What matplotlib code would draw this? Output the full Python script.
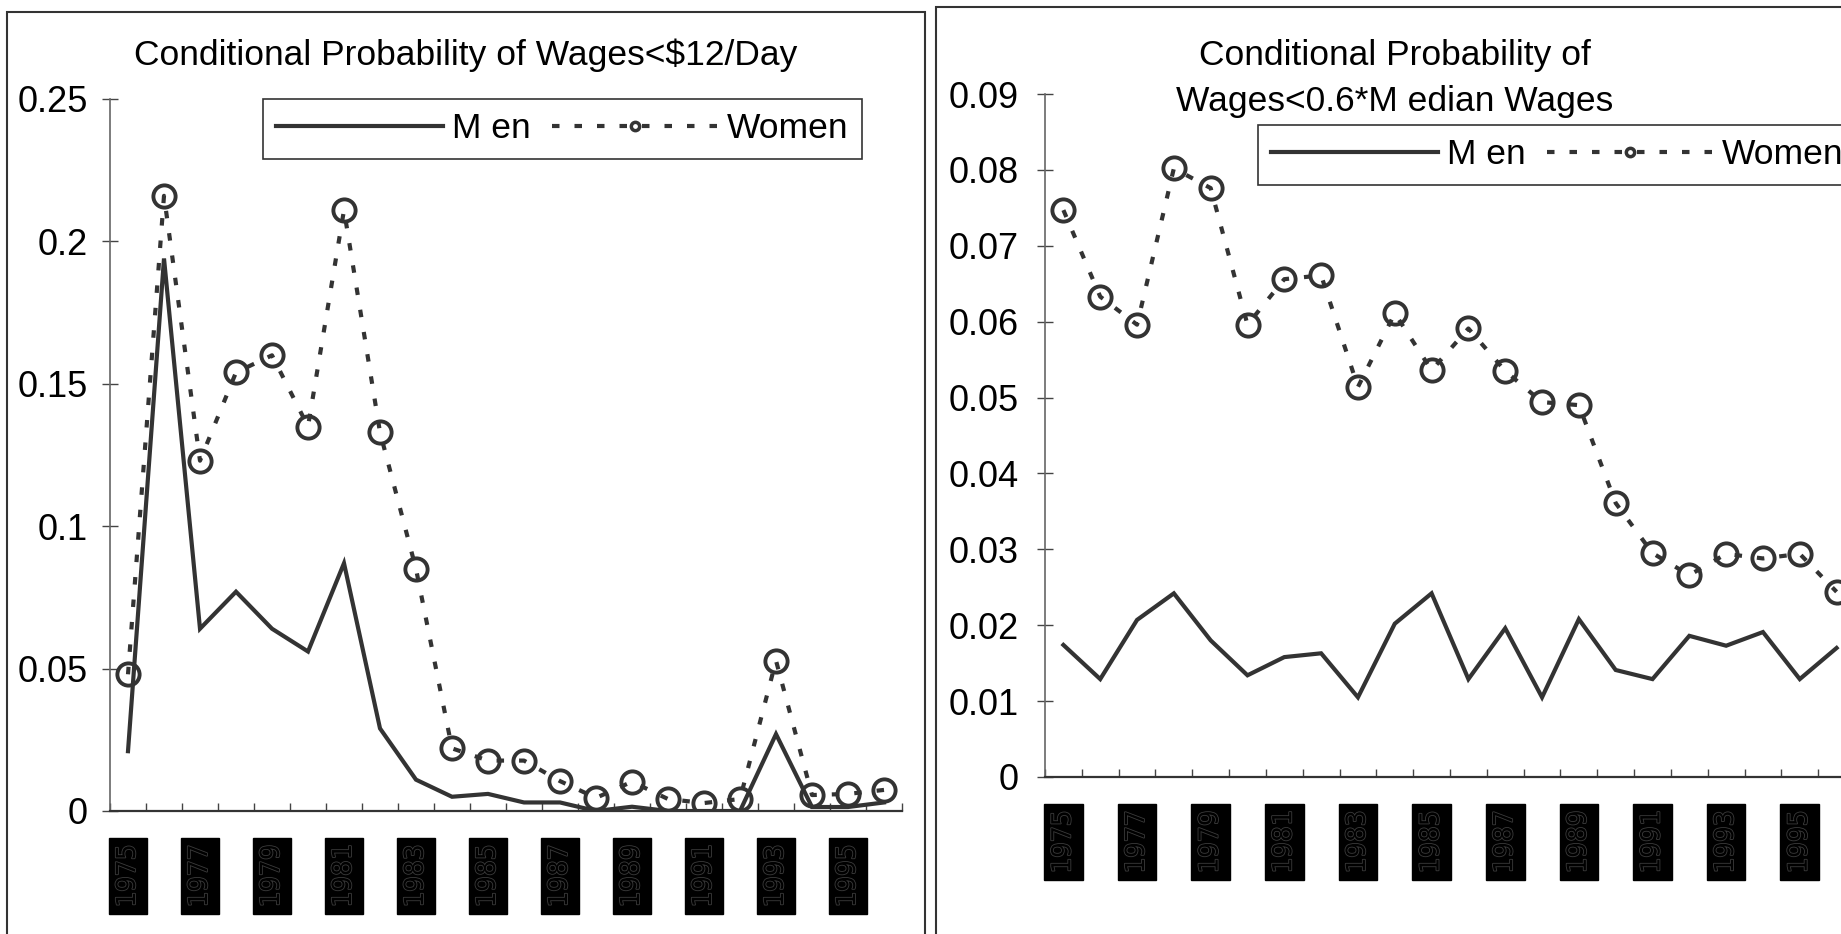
import matplotlib
matplotlib.use("Agg")
import matplotlib.pyplot as plt
import matplotlib.patheffects as pe
from matplotlib.patches import Rectangle
import numpy as np

plt.rcParams["font.family"] = ["Liberation Sans", "DejaVu Sans"]

# 22 yearly categories, every second one labelled
YEARS = [str(y) for y in range(1975, 1997)]

MEN_12 = [0.021, 0.194, 0.064, 0.077, 0.064, 0.056, 0.087, 0.029, 0.011, 0.005, 0.006, 0.003,
          0.003, 0.0, 0.0015, 0.0, 0.0, 0.0, 0.027, 0.0014, 0.0014, 0.003]
WOMEN_12 = [0.048, 0.216, 0.123, 0.154, 0.160, 0.135, 0.211, 0.133, 0.085, 0.022, 0.0177, 0.0177,
            0.0105, 0.0046, 0.0103, 0.0042, 0.0028, 0.0042, 0.0528, 0.0056, 0.006, 0.0074]

MEN_MED = [0.0174, 0.0129, 0.0207, 0.0242, 0.0180, 0.0134, 0.0158, 0.0163, 0.0105, 0.0202, 0.0242,
           0.0129, 0.0196, 0.0105, 0.0208, 0.0141, 0.0129, 0.0186, 0.0173, 0.0191, 0.0129, 0.0170]
WOMEN_MED = [0.0747, 0.0633, 0.0596, 0.0802, 0.0776, 0.0596, 0.0656, 0.0661, 0.0514, 0.0611, 0.0536,
             0.0591, 0.0535, 0.0494, 0.0490, 0.0361, 0.0295, 0.0266, 0.0294, 0.0288, 0.0294, 0.0244]

Y_TICKS_12 = [0, 0.05, 0.1, 0.15, 0.2, 0.25]
Y_TICKS_MED = [0, 0.01, 0.02, 0.03, 0.04, 0.05, 0.06, 0.07, 0.08, 0.09]

INK = "#333333"
W, H = 1841, 934


def fx(px):
    return px / W


def fy(py):
    return 1 - py / H


def draw_panel(ax, men, women, yticks, ylabel_pad):
    n = len(men)
    x = np.arange(n) + 0.5
    ax.plot(x, men, color=INK, lw=3, solid_joinstyle="miter", label="M en", zorder=3)
    ax.plot(x, women, color=INK, lw=3, dashes=(1.8, 3.6), marker="o", ms=16, mfc="none",
            mec=INK, mew=2.8, label="Women", zorder=4)

    ax.set_xlim(0, n)
    ax.set_ylim(yticks[0], yticks[-1])
    ax.set_yticks(yticks)
    ax.set_yticklabels(["%g" % v for v in yticks])

    ax.set_xticks(np.arange(0, n + 1), minor=True)
    ax.set_xticks(x[::2])
    ax.set_xticklabels(YEARS[::2], rotation=90, family="DejaVu Sans Mono", fontsize=19,
                       color="black")
    for t in ax.get_xticklabels():
        t.set_bbox(dict(boxstyle="square,pad=0.24", fc="black", ec="black"))
        t.set_path_effects([pe.withStroke(linewidth=1.2, foreground="#3c3c3c")])

    ax.tick_params(axis="x", which="major", length=0, pad=24)
    ax.tick_params(axis="x", which="minor", direction="in", length=6, width=1, color="#444444")
    ax.tick_params(axis="y", direction="inout", length=12, width=1, color="#444444",
                   labelsize=26, pad=ylabel_pad)

    for s in ("top", "right"):
        ax.spines[s].set_visible(False)
    ax.spines["left"].set_color("#666666")
    ax.spines["left"].set_linewidth(1.2)
    ax.spines["bottom"].set_color(INK)
    ax.spines["bottom"].set_linewidth(1.6)


fig = plt.figure(figsize=(W / 100, H / 100), dpi=100)
fig.patch.set_facecolor("white")

# panel frames (both run off the bottom / right edge of the image)
fig.add_artist(Rectangle((fx(7), -0.1), fx(925 - 7), 0.1 + fy(12), fill=False,
                         ec=INK, lw=1.5, transform=fig.transFigure))
fig.add_artist(Rectangle((fx(936), -0.1), 1.0, 0.1 + fy(7), fill=False,
                         ec=INK, lw=1.5, transform=fig.transFigure))

ax1 = fig.add_axes([fx(110), fy(811), fx(902 - 110), (811 - 99) / H])
ax2 = fig.add_axes([fx(1045), fy(777), fx(1855 - 1045), (777 - 94) / H])

draw_panel(ax1, MEN_12, WOMEN_12, Y_TICKS_12, 10)
draw_panel(ax2, MEN_MED, WOMEN_MED, Y_TICKS_MED, 13)

fig.text(fx(466), fy(55), "Conditional Probability of Wages<$12/Day", ha="center", va="center",
         fontsize=25.5)
fig.text(fx(1395), fy(55), "Conditional Probability of", ha="center", va="center", fontsize=25.5)
fig.text(fx(1395), fy(102), "Wages<0.6*M edian Wages", ha="center", va="center", fontsize=25.5)

for ax, (lx, ly) in ((ax1, (263, 99)), (ax2, (1258, 125))):
    leg = ax.legend(loc="upper left", bbox_to_anchor=(fx(lx), fy(ly)), bbox_transform=fig.transFigure,
                    ncol=2, fontsize=25.5, handlelength=4.7, handletextpad=0.25, columnspacing=0.6,
                    borderpad=0.38, borderaxespad=0, numpoints=1, fancybox=False, framealpha=1,
                    edgecolor=INK)
    leg.get_frame().set_linewidth(1.2)
    leg.get_lines()[1].set_markersize(6)
    leg.get_lines()[1].set_markeredgewidth(2.5)

fig.savefig("out.png", dpi=100)
